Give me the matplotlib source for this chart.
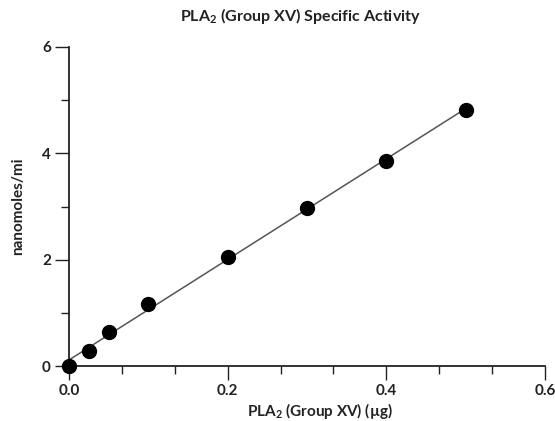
import matplotlib
matplotlib.use("Agg")
import matplotlib.pyplot as plt
import numpy as np

plt.rcParams['font.family'] = ['Lato', 'DejaVu Sans']
plt.rcParams['font.weight'] = 'bold'
plt.rcParams['axes.labelweight'] = 'bold'
plt.rcParams['mathtext.fontset'] = 'custom'
plt.rcParams['mathtext.rm'] = 'Lato:bold'
plt.rcParams['mathtext.bf'] = 'Lato:bold'

# enzyme amount (ug) vs activity (nanomoles/min)
enzyme = [0.0, 0.025, 0.05, 0.1, 0.2, 0.3, 0.4, 0.5]
activity = [0.0, 0.29, 0.645, 1.165, 2.05, 2.98, 3.86, 4.81]

xticks = [0.0, 0.2, 0.4, 0.6]
yticks = [0, 2, 4, 6]

fig = plt.figure(figsize=(5.55, 4.21), dpi=100)
ax = fig.add_axes([69/555, 1-366/421, (545-69)/555, (366-47)/421])

# linear fit drawn over the data range
slope, icpt = np.polyfit(enzyme, activity, 1)
fx = np.array([min(enzyme), max(enzyme)])
ax.plot(fx, slope*fx + icpt, color='#555555', lw=1.1, zorder=2)
ax.plot(enzyme, activity, 'o', color='black', ms=10, clip_on=False, zorder=3)

ax.set_xlim(0, 0.6)
ax.set_ylim(0, 6)
ax.set_xticks(xticks)
ax.set_xticklabels(['{:.1f}'.format(v) for v in xticks])
ax.set_xticks(np.arange(0, 0.61, 0.2/3), minor=True)
ax.set_yticks(yticks)
ax.set_yticks([1, 3, 5], minor=True)

for s in ['top', 'right']:
    ax.spines[s].set_visible(False)
for s in ['left', 'bottom']:
    ax.spines[s].set_linewidth(1.3)
    ax.spines[s].set_color('#222222')
ax.tick_params(which='major', direction='out', length=10, width=1.0, color='#222222',
               labelsize=11, pad=3, labelcolor='#222222')
ax.tick_params(which='minor', direction='out', length=5.5, width=1.0, color='#222222')

ax.set_xlabel(r'PLA$_2$ (Group XV) (µg)', fontsize=11, color='#222222')
ax.xaxis.set_label_coords((320-69)/476, -(401-366)/319)
ax.set_ylabel('nanomoles/mi', fontsize=11, color='#222222')
ax.yaxis.set_label_coords((25-69)/476, 0.5)

fig.text(300/555, 1-16/421, r'PLA$_2$ (Group XV) Specific Activity', ha='center', va='center',
         fontsize=11.5, color='#222222')

fig.savefig('out.png', dpi=100)
